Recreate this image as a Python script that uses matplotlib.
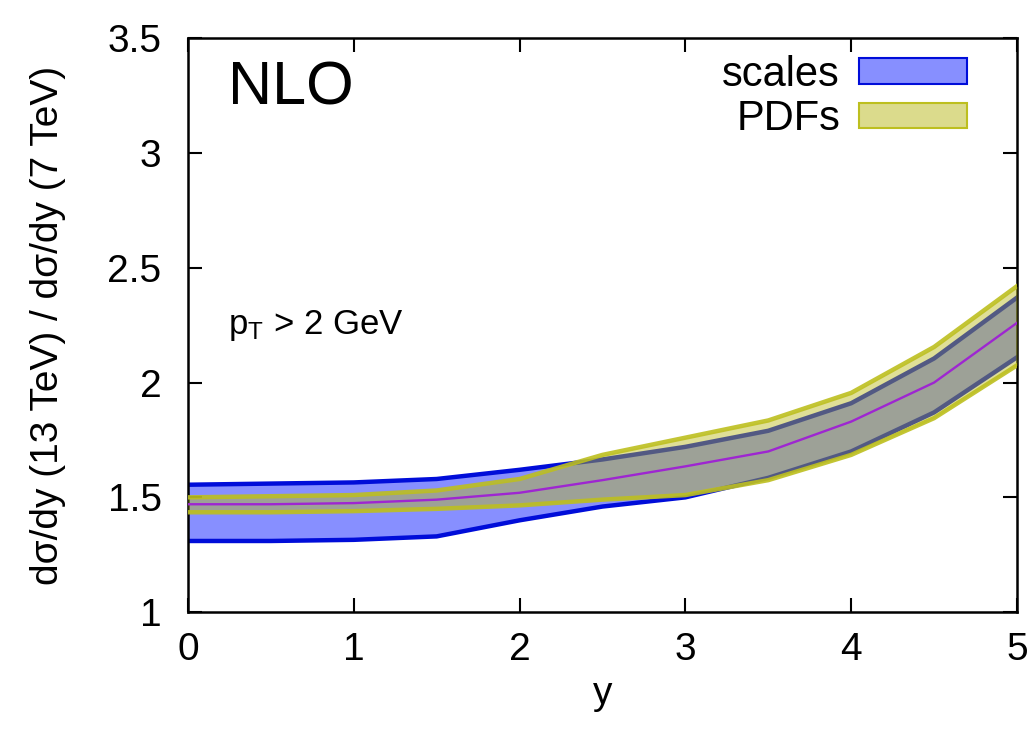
import matplotlib
matplotlib.use("Agg")
import matplotlib.pyplot as plt
import numpy as np
from matplotlib.patches import Patch

plt.rcParams["font.family"] = ["Liberation Sans", "DejaVu Sans"]
plt.rcParams["mathtext.default"] = "regular"

# rapidity points and ratio values
y_pts = [0.0, 0.5, 1.0, 1.5, 2.0, 2.5, 3.0, 3.5, 4.0, 4.5, 5.0]
central = [1.47, 1.47, 1.475, 1.49, 1.52, 1.575, 1.635, 1.70, 1.83, 2.00, 2.26]
scale_lo = [1.31, 1.31, 1.315, 1.33, 1.40, 1.46, 1.50, 1.585, 1.70, 1.87, 2.11]
scale_hi = [1.555, 1.56, 1.565, 1.58, 1.62, 1.665, 1.72, 1.79, 1.91, 2.105, 2.37]
pdf_lo = [1.435, 1.435, 1.44, 1.45, 1.465, 1.49, 1.51, 1.575, 1.685, 1.845, 2.075]
pdf_hi = [1.50, 1.505, 1.51, 1.53, 1.58, 1.685, 1.76, 1.835, 1.955, 2.155, 2.42]

xticks = [0, 1, 2, 3, 4, 5]
yticks = [1, 1.5, 2, 2.5, 3, 3.5]
ytick_labels = ["1", "1.5", "2", "2.5", "3", "3.5"]

blue_fill = (0.53, 0.56, 1.0)
blue_edge = (0.0, 0.05, 0.85)
pdf_fill = (0.72, 0.72, 0.10)
pdf_edge = (0.74, 0.75, 0.12)
purple = (0.62, 0.15, 0.82)

fig = plt.figure(figsize=(10.35, 7.34), dpi=100)
ax = fig.add_axes([0.1816, 0.166, 0.801, 0.782])

# scale band
ax.fill_between(y_pts, scale_lo, scale_hi, color=blue_fill, lw=0, zorder=1)
ax.plot(y_pts, scale_lo, color=blue_edge, lw=3.2, zorder=2)
ax.plot(y_pts, scale_hi, color=blue_edge, lw=3.2, zorder=2)

# pdf band, translucent on top
ax.fill_between(y_pts, pdf_lo, pdf_hi, color=pdf_fill, alpha=0.45, lw=0, zorder=3)
ax.plot(y_pts, pdf_lo, color=pdf_edge, lw=3.2, alpha=0.9, zorder=4)
ax.plot(y_pts, pdf_hi, color=pdf_edge, lw=3.2, alpha=0.9, zorder=4)

ax.plot(y_pts, central, color=purple, lw=1.7, zorder=5)

ax.set_xlim(0, 5)
ax.set_ylim(1, 3.5)
ax.set_xticks(xticks)
ax.set_xticklabels([str(t) for t in xticks])
ax.set_yticks(yticks)
ax.set_yticklabels(ytick_labels)
ax.tick_params(direction="in", length=10, width=1.5, labelsize=28,
               top=True, right=True)
ax.tick_params(axis="x", pad=14)
ax.tick_params(axis="y", pad=19)
for s in ax.spines.values():
    s.set_linewidth(1.8)

ax.set_xlabel("y", fontsize=28, labelpad=6)
ax.set_ylabel("d\u03c3/dy (13 TeV) / d\u03c3/dy (7 TeV)", fontsize=28, labelpad=30)

ax.text(0.24, 3.28, "NLO", fontsize=44, va="center", ha="left")
ax.text(0.24, 2.25, r"$p_T$ > 2 GeV", fontsize=25, va="center", ha="left")

handles = [Patch(facecolor=blue_fill, edgecolor=blue_edge, lw=1.5),
           Patch(facecolor=(0.86, 0.86, 0.55), edgecolor=pdf_edge, lw=1.5)]
leg = ax.legend(handles, ["scales", "PDFs"], loc="upper right", frameon=False,
                fontsize=30, markerfirst=False, handlelength=2.6, handleheight=0.55,
                handletextpad=0.45, labelspacing=0.1, borderaxespad=0.3,
                bbox_to_anchor=(0.975, 1.022))

fig.savefig("out.png", dpi=100)
